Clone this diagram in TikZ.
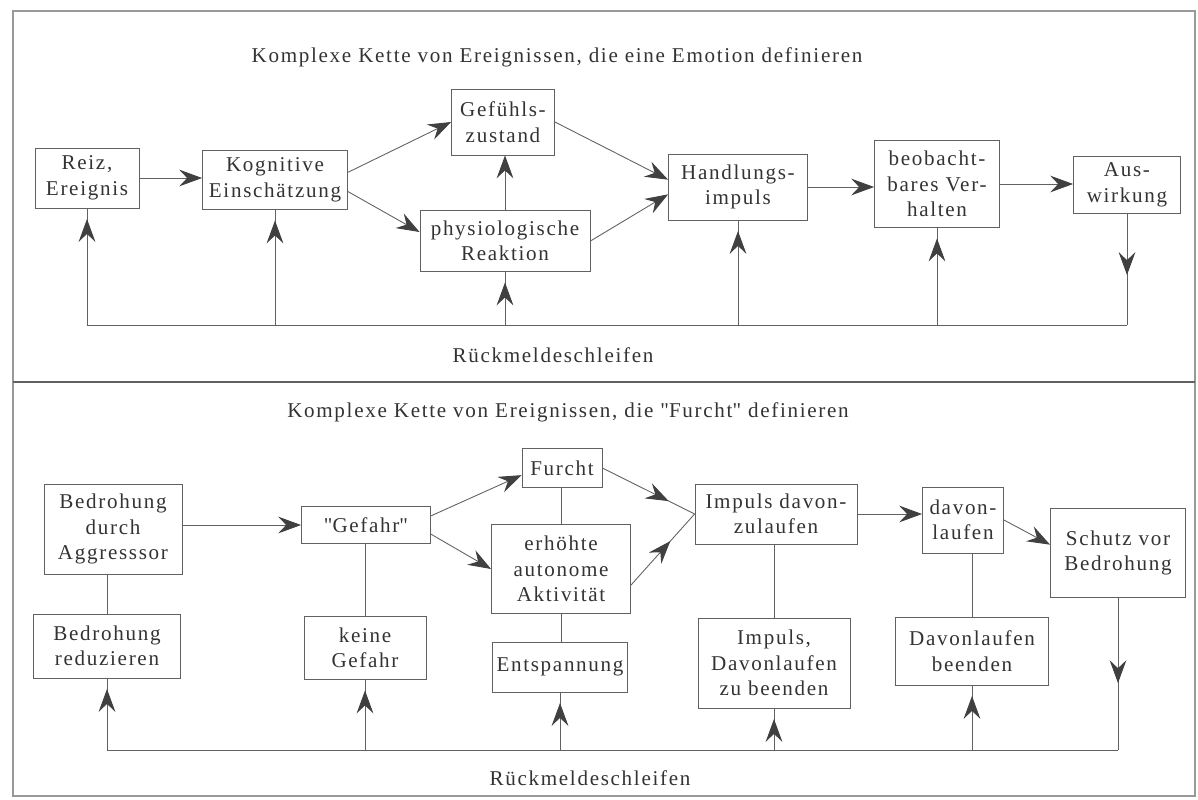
\documentclass[tikz,border=0pt]{standalone}
\usepackage{fontspec}
\setmainfont{Liberation Serif}[LetterSpace=8]
\definecolor{strich}{gray}{0.38}
\definecolor{spitz}{gray}{0.25}
\definecolor{schrift}{gray}{0.2}
\definecolor{rand}{gray}{0.6}
\usetikzlibrary{arrows.meta, decorations.markings}
\tikzset{spitze/.tip={Stealth[length=13pt, width=9.5pt, inset=4.5pt, color=spitz]}}
\tikzstyle{box} = [
    rectangle,
    draw = strich,
    line width = 0.5pt,
    inner sep = 0pt,
    align = center,
    text = schrift
]
\tikzstyle{linie} = [draw = strich, color = strich, line width = 0.5pt]
\tikzstyle{pfeil} = [linie, -spitze]
\tikzstyle{rueck} = [
    linie,
    postaction = {decorate},
    decoration = {markings, mark=at position -6pt with {\arrow{spitze}}}
]
\tikzset{mitte/.style={
    postaction = {decorate},
    decoration = {markings, mark=at position #1 with {\arrow{spitze}}}
}}
\begin{document}
\begin{tikzpicture}[x=0.02cm, y=-0.02cm, font=\fontsize{12}{14.5}\selectfont]
        \useasboundingbox (0,0) rectangle (1198,799);

        %% Frame
        \draw [draw=rand, line width=0.6pt] (13,11) rectangle (1195,796);
        \draw [draw=strich, line width=1.2pt] (13,382) -- (1195,382);

        %% Titles
        \node (titelO) [text=schrift] at (557,57) {Komplexe Kette von Ereignissen, die eine Emotion definieren};
        \node (rueckO) [text=schrift] at (553,355) {Rückmeldeschleifen};
        \node (titelU) [text=schrift] at (568,412) {Komplexe Kette von Ereignissen, die \textquotedbl Furcht\textquotedbl{} definieren};
        \node (rueckU) [text=schrift] at (590,778) {Rückmeldeschleifen};

        %% Emotion
        \node (reiz)    [box, minimum width=2.08cm, minimum height=1.2cm]  at (87,178)   {Reiz,\\Ereignis};
        \node (kogn)    [box, minimum width=2.9cm,  minimum height=1.18cm] at (275,180)  {Kognitive\\Einschätzung};
        \node (gefuehl) [box, minimum width=2.06cm, minimum height=1.32cm] at (503,122)  {Gefühls-\\zustand};
        \node (physio)  [box, minimum width=3.4cm,  minimum height=1.22cm] at (505,241)  {physiologische\\Reaktion};
        \node (handl)   [box, minimum width=2.78cm, minimum height=1.32cm] at (738,187)  {Handlungs-\\impuls};
        \node (beob)    [box, minimum width=2.5cm,  minimum height=1.74cm] at (937,184)  {beobacht-\\bares Ver-\\halten};
        \node (ausw)    [box, minimum width=2.14cm, minimum height=1.14cm] at (1127,185) {Aus-\\wirkung};

        \draw [pfeil] (reiz.east) -- (reiz.east -| kogn.west);
        \draw [pfeil] (kogn.6) -- (gefuehl.west);
        \draw [pfeil] (kogn.-9) -- (physio.174);
        \draw [pfeil] (physio.north) -- (physio.north |- gefuehl.south);
        \draw [pfeil] (gefuehl.east) -- (handl.174);
        \draw [pfeil] (physio.east) -- (handl.186);
        \draw [pfeil] (handl.east) -- (handl.east -| beob.west);
        \draw [pfeil] (beob.east) -- (beob.east -| ausw.west);

        %% Feedback (top)
        \coordinate (schleifeO) at (0,325);
        \draw [linie, mitte=0.55] (ausw.south) -- (ausw.south |- schleifeO);
        \draw [linie] (ausw.south |- schleifeO) -- (reiz.south |- schleifeO);
        \draw [rueck] (reiz.south |- schleifeO) -- (reiz.south);
        \draw [rueck] (kogn.south |- schleifeO) -- (kogn.south);
        \draw [rueck] (physio.south |- schleifeO) -- (physio.south);
        \draw [rueck] (handl.south |- schleifeO) -- (handl.south);
        \draw [rueck] (beob.south |- schleifeO) -- (beob.south);

        %% Furcht
        \node (bedr)    [box, minimum width=2.76cm, minimum height=1.8cm]  at (113,529)  {Bedrohung\\durch\\Aggresssor};
        \node (gefahr)  [box, minimum width=2.58cm, minimum height=0.74cm] at (366,525)  {\textquotedbl Gefahr\textquotedbl};
        \node (furcht)  [box, minimum width=1.6cm,  minimum height=0.78cm] at (562,468)  {Furcht};
        \node (erhoeht) [box, minimum width=2.78cm, minimum height=1.78cm] at (561,569)  {erhöhte\\autonome\\Aktivität};
        \node (entsp)   [box, minimum width=2.7cm,  minimum height=1.0cm]  at (560,667)  {Entspannung};
        \node (reduz)   [box, minimum width=2.94cm, minimum height=1.28cm] at (107,646)  {Bedrohung\\reduzieren};
        \node (keine)   [box, minimum width=2.44cm, minimum height=1.26cm] at (365,648)  {keine\\Gefahr};
        \node (impuls)  [box, minimum width=3.24cm, minimum height=1.2cm]  at (776,514)  {Impuls davon-\\zulaufen};
        \node (davon)   [box, minimum width=1.62cm, minimum height=1.32cm] at (963,520)  {davon-\\laufen};
        \node (schutz)  [box, minimum width=2.7cm,  minimum height=1.78cm] at (1118,553) {Schutz vor\\Bedrohung};
        \node (impend)  [box, minimum width=3.04cm, minimum height=1.8cm]  at (774,663)  {Impuls,\\Davonlaufen\\zu beenden};
        \node (davend)  [box, minimum width=3.06cm, minimum height=1.36cm] at (972,651)  {Davonlaufen\\beenden};

        \draw [pfeil] (gefahr.west -| bedr.east) -- (gefahr.west);
        \draw [pfeil] (gefahr.8) -- (furcht.190);
        \draw [pfeil] (gefahr.-8) -- (erhoeht.west);
        \draw [linie, mitte=0.72] (furcht.east) -- (impuls.west);
        \draw [linie, mitte=0.62] (erhoeht.-13) -- (impuls.west);
        \draw [pfeil] (impuls.east) -- (impuls.east -| davon.west);
        \draw [pfeil] (davon.east) -- (schutz.173);

        \draw [linie] (reduz.north |- bedr.south) -- (reduz.north);
        \draw [linie] (keine.north |- gefahr.south) -- (keine.north);
        \draw [linie] (erhoeht.north |- furcht.south) -- (erhoeht.north);
        \draw [linie] (erhoeht.south) -- (erhoeht.south |- entsp.north);
        \draw [linie] (impend.north |- impuls.south) -- (impend.north);
        \draw [linie] (davend.north |- davon.south) -- (davend.north);

        %% Feedback (bottom)
        \coordinate (schleifeU) at (0,750);
        \draw [linie, mitte=0.56] (schutz.south) -- (schutz.south |- schleifeU);
        \draw [linie] (schutz.south |- schleifeU) -- (reduz.south |- schleifeU);
        \draw [rueck] (reduz.south |- schleifeU) -- (reduz.south);
        \draw [rueck] (keine.south |- schleifeU) -- (keine.south);
        \draw [rueck] (entsp.south |- schleifeU) -- (entsp.south);
        \draw [rueck] (impend.south |- schleifeU) -- (impend.south);
        \draw [rueck] (davend.south |- schleifeU) -- (davend.south);

    \end{tikzpicture}
\end{document}
